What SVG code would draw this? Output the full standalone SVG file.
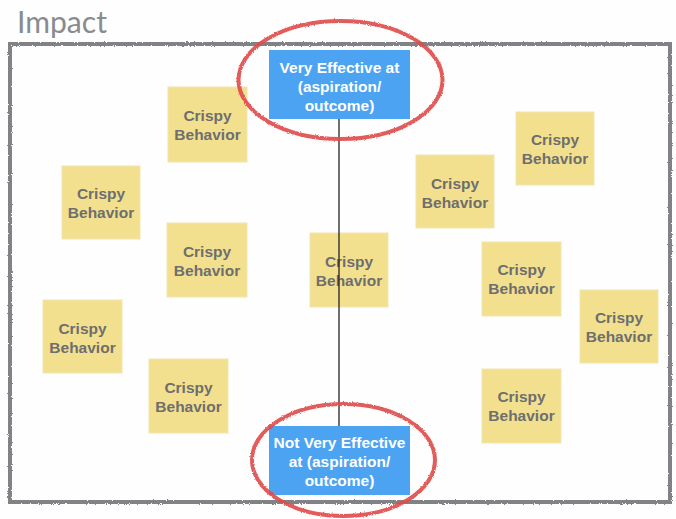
<svg xmlns="http://www.w3.org/2000/svg" width="676" height="519" viewBox="0 0 676 519">
<style>
.note rect{fill:#f3e08f;stroke:#efe4b0;stroke-width:1}
.note text{font-family:"Liberation Sans",Arial,sans-serif;font-weight:bold;font-size:15.5px;fill:#6e6e6e;text-anchor:middle}
.blue rect{fill:#4ba3f2}
.blue text{font-family:"Liberation Sans",Arial,sans-serif;font-weight:bold;font-size:15.5px;fill:#ffffff;text-anchor:middle}
.ring{fill:none;stroke:#e04a4a;stroke-width:4;stroke-opacity:0.9}
</style>
<defs>
<filter id="rough" x="-5%" y="-5%" width="110%" height="110%">
<feTurbulence type="fractalNoise" baseFrequency="0.9" numOctaves="2" seed="3"/>
<feDisplacementMap in="SourceGraphic" scale="2.5" xChannelSelector="R" yChannelSelector="G"/>
</filter>
</defs>
<rect width="676" height="519" fill="#fefefe"/>
<text x="17" y="33" font-family="Lato,'Open Sans',sans-serif" font-size="31" fill="#8a8b8e" textLength="90" lengthAdjust="spacingAndGlyphs">Impact</text>
<rect id="frame" x="10" y="44" width="660" height="458" fill="none" stroke="#818285" stroke-width="4" filter="url(#rough)"/>
<g id="note1" class="note"><rect x="168" y="87" width="79" height="75"/><text x="207.5" y="121">Crispy</text><text x="207.5" y="140">Behavior</text></g>
<g id="note2" class="note"><rect x="62" y="166" width="78" height="73"/><text x="101" y="199">Crispy</text><text x="101" y="218">Behavior</text></g>
<g id="note3" class="note"><rect x="167" y="223" width="80" height="74"/><text x="207" y="257">Crispy</text><text x="207" y="276">Behavior</text></g>
<g id="note4" class="note"><rect x="310" y="233" width="78" height="74"/><text x="349" y="267">Crispy</text><text x="349" y="286">Behavior</text></g>
<g id="note5" class="note"><rect x="43" y="300" width="79" height="73"/><text x="82.5" y="334">Crispy</text><text x="82.5" y="353">Behavior</text></g>
<g id="note6" class="note"><rect x="149" y="359" width="79" height="74"/><text x="188.5" y="393">Crispy</text><text x="188.5" y="412">Behavior</text></g>
<g id="note7" class="note"><rect x="516" y="112" width="78" height="73"/><text x="555" y="145">Crispy</text><text x="555" y="164">Behavior</text></g>
<g id="note8" class="note"><rect x="416" y="155" width="78" height="73"/><text x="455" y="189">Crispy</text><text x="455" y="208">Behavior</text></g>
<g id="note9" class="note"><rect x="482" y="242" width="79" height="74"/><text x="521.5" y="275">Crispy</text><text x="521.5" y="294">Behavior</text></g>
<g id="note10" class="note"><rect x="580" y="290" width="78" height="73"/><text x="619" y="323">Crispy</text><text x="619" y="342">Behavior</text></g>
<g id="note11" class="note"><rect x="482" y="369" width="79" height="74"/><text x="521.5" y="402">Crispy</text><text x="521.5" y="421">Behavior</text></g>
<g id="connectors"><line x1="339" y1="118" x2="339" y2="427" stroke="#222222" stroke-width="1.3"/></g>
<g id="top" class="blue"><rect x="269" y="50" width="141" height="69"/><text x="339.5" y="73">Very Effective at</text><text x="339.5" y="92">(aspiration/</text><text x="339.5" y="111">outcome)</text></g>
<g id="bottom" class="blue"><rect x="269" y="426" width="141" height="69"/><text x="339.5" y="448">Not Very Effective</text><text x="339.5" y="467">at (aspiration/</text><text x="339.5" y="486">outcome)</text></g>
<g id="rings" filter="url(#rough)">
<ellipse class="ring" cx="340.5" cy="80" rx="102" ry="59"/>
<ellipse class="ring" cx="343.5" cy="460" rx="91.5" ry="56"/>
</g>
</svg>
